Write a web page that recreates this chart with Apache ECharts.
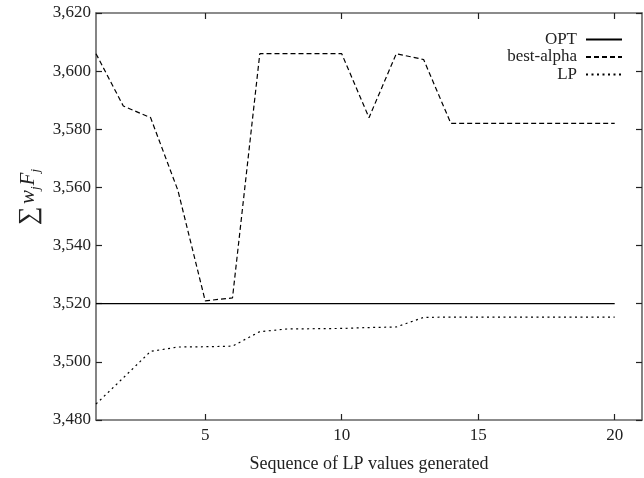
<!DOCTYPE html>
<html>
<head>
<meta charset="utf-8">
<script src="https://cdn.jsdelivr.net/npm/echarts@6/dist/echarts.min.js"></script>
<style>html,body{margin:0;padding:0;background:#fff;}#c{width:644px;height:478px;}</style>
</head>
<body>
<div id="c"></div>
<script>
var xValues = [1,2,3,4,5,6,7,8,9,10,11,12,13,14,15,16,17,18,19,20];
var optValues = [3520,3520,3520,3520,3520,3520,3520,3520,3520,3520,3520,3520,3520,3520,3520,3520,3520,3520,3520,3520];
var bestAlphaValues = [3606,3588,3584,3559,3521,3522,3606,3606,3606,3606,3584,3606,3604,3582,3582,3582,3582,3582,3582,3582];
var lpValues = [3485.5,3494.5,3503.6,3505.1,3505.2,3505.4,3510.4,3511.3,3511.4,3511.5,3511.8,3512.0,3515.3,3515.4,3515.4,3515.4,3515.4,3515.4,3515.4,3515.4];
var xTicks = [5,10,15,20];
var seriesNames = ['OPT','best-alpha','LP'];

function pairs(vals){ return xValues.map(function(x,i){ return [x, vals[i]]; }); }

var font = 'Liberation Serif';
var axisColor = '#666';
var chart = echarts.init(document.getElementById('c'));
var tickCommon = {show:true, inside:true, length:6, lineStyle:{color:'#222', width:1.2}};
chart.setOption({
  animation:false,
  backgroundColor:'#fff',
  grid:{left:96, right:2, top:13, bottom:57, containLabel:false},
  legend: seriesNames.map(function(n, i){
    return {
      data:[n], orient:'vertical', right:21, top:31 + i*17.5, align:'right',
      itemWidth:36, itemHeight:10, itemGap:0, padding:0,
      itemStyle:{color:'transparent', borderWidth:0, opacity:0},
      textStyle:{fontFamily:font, fontSize:17, color:'#222', padding:[0,4,0,0]}
    };
  }),
  xAxis:[{
    type:'value', min:1, max:21, position:'bottom',
    name:'Sequence of LP values generated', nameLocation:'middle', nameGap:35,
    nameTextStyle:{fontFamily:font, fontSize:18, color:'#222'},
    axisLine:{show:true, lineStyle:{color:axisColor, width:1.6}},
    axisTick:Object.assign({customValues:xTicks}, tickCommon),
    axisLabel:{customValues:xTicks, fontFamily:font, fontSize:17, color:'#222', margin:7},
    splitLine:{show:false}
  },{
    type:'value', min:1, max:21, position:'top',
    axisLine:{show:true, lineStyle:{color:axisColor, width:1.6}},
    axisTick:Object.assign({customValues:xTicks}, tickCommon),
    axisLabel:{show:false},
    splitLine:{show:false}
  }],
  yAxis:[{
    type:'value', min:3480, max:3620, interval:20, position:'left',
    name:'{s|∑}{sp| }{i|w}{sub|j}{i|F}{sub|j}', nameLocation:'middle', nameGap:54, nameRotate:90,
    nameTextStyle:{fontFamily:font, fontSize:20, color:'#222', padding:[0,0,0,40],
      rich:{
        s:{fontFamily:font, fontSize:26, color:'#222', lineHeight:26, verticalAlign:'bottom'},
        sp:{fontFamily:font, fontSize:10, lineHeight:26, verticalAlign:'bottom'},
        i:{fontFamily:font, fontSize:21, fontStyle:'italic', color:'#222', lineHeight:26, verticalAlign:'bottom', padding:[0,0,3,0]},
        sub:{fontFamily:font, fontSize:13, fontStyle:'italic', color:'#222', lineHeight:26, verticalAlign:'bottom', padding:[0,1,0,0]}
      }},
    axisLine:{show:true, lineStyle:{color:axisColor, width:1.6}},
    axisTick:tickCommon,
    axisLabel:{fontFamily:font, fontSize:17, color:'#222', margin:5,
      formatter:function(v){ return v.toLocaleString('en-US'); }},
    splitLine:{show:false}
  },{
    type:'value', min:3480, max:3620, interval:20, position:'right',
    axisLine:{show:true, lineStyle:{color:axisColor, width:1.6}},
    axisTick:tickCommon,
    axisLabel:{show:false},
    splitLine:{show:false}
  }],
  series:[
    {name:'OPT', type:'line', data:pairs(optValues), symbol:'none', showSymbol:false,
     lineStyle:{color:'#000', width:1.3, type:'solid'}, itemStyle:{color:'#000'}},
    {name:'best-alpha', type:'line', data:pairs(bestAlphaValues), symbol:'none', showSymbol:false,
     lineStyle:{color:'#000', width:1.2, type:[5,3]}, itemStyle:{color:'#000'}},
    {name:'LP', type:'line', data:pairs(lpValues), symbol:'none', showSymbol:false,
     lineStyle:{color:'#000', width:1.2, type:[2,3.5]}, itemStyle:{color:'#000'}}
  ]
});
</script>
</body>
</html>
